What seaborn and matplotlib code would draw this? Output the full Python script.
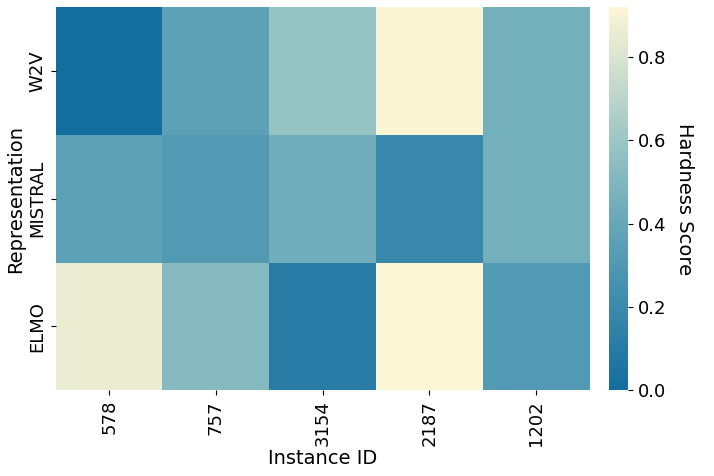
import numpy as np
import pandas as pd
import seaborn as sns
import matplotlib.pyplot as plt
from matplotlib.colors import LinearSegmentedColormap

# Hardness scores per representation and instance
instances = ["578", "757", "3154", "2187", "1202"]
representations = ["W2V", "MISTRAL", "ELMO"]
w2v = [0.00, 0.36, 0.58, 0.91, 0.45]
mistral = [0.36, 0.31, 0.44, 0.19, 0.45]
elmo = [0.86, 0.52, 0.10, 0.92, 0.31]

df = pd.DataFrame([w2v, mistral, elmo], index=representations, columns=instances)

cmap = LinearSegmentedColormap.from_list(
    "hard", [(0.0, "#136d9e"), (0.38, "#5a9fb6"), (0.62, "#93c1c3"), (1.0, "#fdf6d6")])

fig, ax = plt.subplots(figsize=(7.14, 4.76), dpi=100)
sns.heatmap(df, cmap=cmap, vmin=0, vmax=0.92, ax=ax,
            cbar_kws={"label": "Hardness Score", "pad": 0.03})
ax.set_xlabel("Instance ID", fontsize=14, labelpad=2)
ax.set_ylabel("Representation", fontsize=14, labelpad=2)
ax.tick_params(axis="x", labelsize=13, rotation=90)
ax.tick_params(axis="y", labelsize=13, rotation=90)
for lab in ax.get_yticklabels():
    lab.set_va("center")
cbar = ax.collections[0].colorbar
cbar.ax.tick_params(labelsize=13)
cbar.set_label("Hardness Score", fontsize=14, rotation=270, labelpad=20)
cbar.set_ticks([0.0, 0.2, 0.4, 0.6, 0.8])
plt.subplots_adjust(left=0.078, right=0.99, top=0.985, bottom=0.18)
fig.savefig("out.png")
